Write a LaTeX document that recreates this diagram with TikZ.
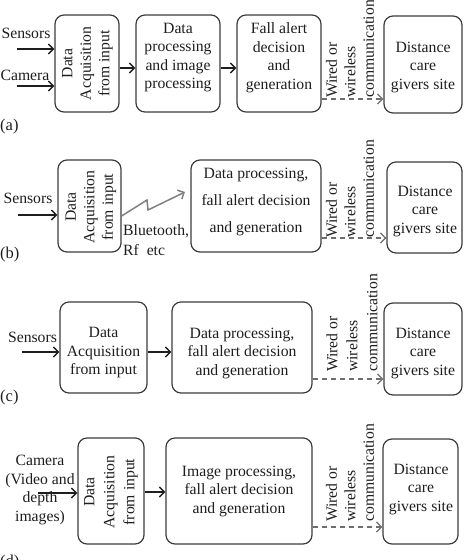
\documentclass[tikz,border=0pt]{standalone}
\usepackage{fontspec}
\setmainfont{Liberation Serif}
\usetikzlibrary{arrows.meta,calc}
\definecolor{ink}{HTML}{1E1E1E}
\definecolor{boxline}{HTML}{3C3C3C}
\definecolor{linkgray}{HTML}{6E6E6E}
\definecolor{boltgray}{HTML}{808080}
\begin{document}
\begin{tikzpicture}[x=1pt,y=-1pt,
  box/.style={draw=boxline, line width=1.2pt, rounded corners=9pt, inner sep=0pt},
  txt/.style={font=\fontsize{15.7}{18.5}\selectfont, align=center, inner sep=0pt, text=ink},
  vtxt/.style={txt, rotate=90},
  linktxt/.style={txt, rotate=90, align=left, anchor=west},
  tag/.style={font=\fontsize{16.5}{19}\selectfont, inner sep=0pt, anchor=west, text=ink},
  arr/.style={draw=ink, line width=1.4pt, -{Straight Barb[length=5pt,width=10pt]}},
  darr/.style={draw=linkgray, line width=1.3pt, dash pattern=on 5pt off 4pt,
    -{Straight Barb[length=5pt,width=10pt]}},
  bolt/.style={draw=boltgray, line width=1.5pt, -{Straight Barb[length=5pt,width=10pt]}}
]
\useasboundingbox (0,0) rectangle (467,560);

% ---------- (a) sensors + camera, local processing ----------
\node[box, minimum width=64pt, minimum height=97pt] (a1) at (87,63.5) {};
\node[box, minimum width=84pt, minimum height=97pt] (a2) at (178,63.5) {};
\node[box, minimum width=84pt, minimum height=97pt] (a3) at (279,63.5) {};
\node[box, minimum width=78pt, minimum height=97pt] (a4) at (423,64.5) {};
\node[vtxt] (a1t) at (87.5,63.5) {Data\\Acquisition\\from input};
\node[txt] (a2t) at (178,57.5) {Data\\processing\\and image\\processing};
\node[txt] (a3t) at (279,57.5) {Fall alert\\decision\\and\\generation};
\node[txt] (a4t) at (423,67) {Distance\\care\\givers site};
\node[txt] (aS) at (26,33) {Sensors};
\node[txt] (aC) at (25,75) {Camera};
\coordinate (as) at (17,49);
\coordinate (ac) at (17,86);
\coordinate (ya) at (0,68);
\coordinate (yad) at (0,99);
\draw[arr] (as) -- (as -| a1.west);
\draw[arr] (ac) -- (ac -| a1.west);
\draw[arr] (a1.east |- ya) -- (a2.west |- ya);
\draw[arr] (a2.east |- ya) -- (a3.west |- ya);
\draw[darr] (a3.east |- yad) -- (a4.west |- yad);
\node[linktxt] (aw) at (350,98) {Wired or\\wireless\\communication};
\node[tag] (la) at (0,127) {(a)};

% ---------- (b) wireless link to processing unit ----------
\node[box, minimum width=63pt, minimum height=92pt] (b1) at (89.5,206) {};
\node[box, minimum width=130pt, minimum height=92pt] (b2) at (256,206) {};
\node[box, minimum width=75pt, minimum height=91pt] (b3) at (424.5,207.5) {};
\node[vtxt] (b1t) at (91,207) {Data\\Acquisition\\from input};
\node[txt, font=\fontsize{15.7}{27}\selectfont] (b2t) at (256,202) {Data processing,\\fall alert decision\\and generation};
\node[txt] (b3t) at (425,211) {Distance\\care\\givers site};
\node[txt] (bS) at (28,198) {Sensors};
\coordinate (bs) at (18,215);
\draw[arr] (bs) -- (bs -| b1.west);
\coordinate (bz0) at (0,216);
\coordinate (bz1) at (147,200);
\coordinate (bz2) at (148,210);
\coordinate (bz3) at (185,192);
\draw[bolt] (b1.east |- bz0) -- (bz1) -- (bz2) -- (bz3);
\node[txt, align=left, anchor=west, font=\fontsize{15.7}{20}\selectfont] (bt) at (123,240) {Bluetooth,\\Rf~~etc};
\coordinate (ybd) at (0,238);
\draw[darr] (b2.east |- ybd) -- (b3.west |- ybd);
\node[linktxt] (bw) at (350,238) {Wired or\\wireless\\communication};
\node[tag] (lb) at (0,255) {(b)};

% ---------- (c) sensors only ----------
\node[box, minimum width=87pt, minimum height=91pt] (c1) at (103.5,347.5) {};
\node[box, minimum width=140pt, minimum height=91pt] (c2) at (242,347.5) {};
\node[box, minimum width=78pt, minimum height=92pt] (c3) at (423,349) {};
\node[txt] (c1t) at (103.5,353) {Data\\Acquisition\\from input};
\node[txt] (c2t) at (242,353) {Data processing,\\fall alert decision\\and generation};
\node[txt] (c3t) at (423,353) {Distance\\care\\givers site};
\node[txt] (cS) at (32.5,337) {Sensors};
\coordinate (cs) at (22,352);
\draw[arr] (cs) -- (cs -| c1.west);
\draw[arr] (c1.east |- cs) -- (c2.west |- cs);
\coordinate (ycd) at (0,379);
\draw[darr] (c2.east |- ycd) -- (c3.west |- ycd);
\node[linktxt, font=\fontsize{15.7}{20}\selectfont] (cw) at (352,372) {Wired or\\wireless\\communication};
\node[tag] (lc) at (0,398) {(c)};

% ---------- (d) camera only ----------
\node[box, minimum width=66pt, minimum height=106pt] (d1) at (111,491) {};
\node[box, minimum width=146pt, minimum height=106pt] (d2) at (239,491) {};
\node[box, minimum width=75pt, minimum height=105pt] (d3) at (420.5,491.5) {};
\node[vtxt, font=\fontsize{15.7}{20}\selectfont] (d1t) at (111,492) {Data\\Acquisition\\from input};
\node[txt] (d2t) at (239,491) {Image processing,\\fall alert decision\\and generation};
\node[txt] (d3t) at (421,489) {Distance\\care\\givers site};
\node[txt] (dC) at (40,490) {Camera\\(Video and\\depth\\images)};
\coordinate (dc) at (38,493);
\draw[arr] (dc) -- (dc -| d1.west);
\coordinate (yd) at (0,492);
\draw[arr] (d1.east |- yd) -- (d2.west |- yd);
\coordinate (ydd) at (0,527);
\draw[darr] (d2.east |- ydd) -- (d3.west |- ydd);
\node[linktxt] (dw) at (350,522) {Wired or\\wireless\\communication};
\node[tag] (ld) at (0,563) {(d)};
\end{tikzpicture}
\end{document}
